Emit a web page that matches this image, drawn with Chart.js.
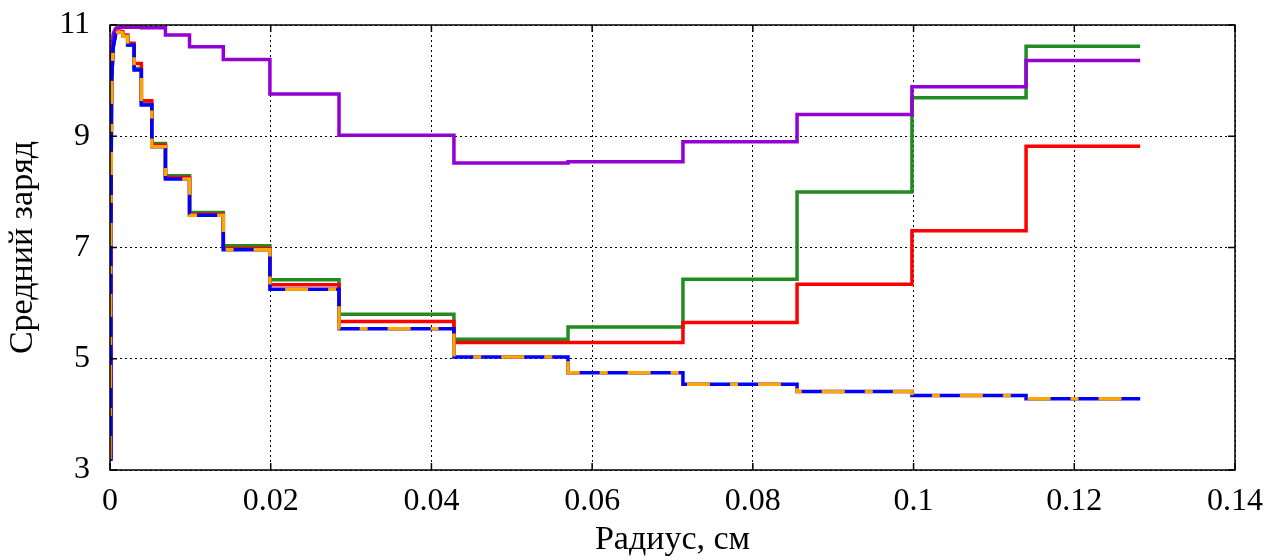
<!DOCTYPE html>
<html>
<head>
<meta charset="utf-8">
<script src="https://cdn.jsdelivr.net/npm/chart.js"></script>
<style>
  body { margin: 0; background: #fff; }
  #chart { display: block; }
</style>
</head>
<body>
<canvas id="chart" width="1277" height="560"></canvas>
<script>
// radius (cm) of the step boundaries
const edges = [0.0016, 0.0022, 0.0030, 0.0039, 0.0052, 0.0069, 0.0099, 0.0141, 0.0199,
  0.0285, 0.0428, 0.0570, 0.0713, 0.0855, 0.0998, 0.1140, 0.1282];
// the steep rise next to r = 0
const riseX = [0, 0.0001, 0.0002, 0.0004, 0.0007, 0.0011, 0.0016];

const greenRise = [3.2, 7.0, 10.0, 10.6, 10.84, 10.88, 10.86];
const redRise = [3.2, 7.0, 10.0, 10.6, 10.85, 10.9, 10.88];
const blueRise = [3.2, 7.0, 10.0, 10.6, 10.84, 10.88, 10.86];
const orangeRise = [3.2, 7.0, 10.0, 10.6, 10.84, 10.88, 10.86];
const purpleRise = [3.25, 9.0, 10.5, 10.85, 10.94, 10.96, 10.96];

const greenSteps = [10.80, 10.64, 10.22, 9.58, 8.87, 8.29, 7.63, 7.03, 6.42, 5.80, 5.35, 5.57, 6.43, 8.00, 9.69, 10.62];
const redSteps = [10.82, 10.67, 10.31, 9.64, 8.84, 8.26, 7.60, 6.98, 6.33, 5.67, 5.29, 5.29, 5.65, 6.34, 7.30, 8.82];
const blueSteps = [10.80, 10.64, 10.19, 9.56, 8.81, 8.23, 7.58, 6.96, 6.25, 5.54, 5.03, 4.75, 4.54, 4.41, 4.34, 4.28];
const orangeSteps = [10.80, 10.64, 10.19, 9.56, 8.81, 8.23, 7.58, 6.96, 6.25, 5.54, 5.03, 4.75, 4.54, 4.41, 4.34, 4.28];
const purpleSteps = [10.96, 10.96, 10.96, 10.95, 10.95, 10.82, 10.61, 10.38, 9.76, 9.02, 8.52, 8.54, 8.90, 9.39, 9.89, 10.36];

const xTicks = [0, 0.02, 0.04, 0.06, 0.08, 0.1, 0.12, 0.14];
const yTicks = [3, 5, 7, 9, 11];

function stepPoints(rise, vals) {
  const pts = riseX.map((x, i) => ({ x: x, y: rise[i] }));
  vals.forEach((v, i) => {
    pts.push({ x: edges[i], y: v });
    pts.push({ x: edges[i + 1], y: v });
  });
  return pts;
}

function series(rise, vals, color, order, dash) {
  return {
    data: stepPoints(rise, vals),
    borderColor: color,
    borderWidth: 3.5,
    borderDash: dash || [],
    showLine: true,
    pointRadius: 0,
    tension: 0,
    fill: false,
    order: order
  };
}

const serif = '"Liberation Serif", "DejaVu Serif", serif';

const frame = {
  id: 'frame',
  afterDatasetsDraw(chart) {
    const { ctx, chartArea: a, scales } = chart;
    ctx.save();
    ctx.strokeStyle = '#000';
    ctx.lineWidth = 1.5;
    ctx.strokeRect(a.left, a.top, a.right - a.left, a.bottom - a.top);
    ctx.beginPath();
    xTicks.forEach(v => {
      const px = scales.x.getPixelForValue(v);
      ctx.moveTo(px, a.bottom); ctx.lineTo(px, a.bottom - 7);
      ctx.moveTo(px, a.top); ctx.lineTo(px, a.top + 7);
    });
    yTicks.forEach(v => {
      const py = scales.y.getPixelForValue(v);
      ctx.moveTo(a.left, py); ctx.lineTo(a.left + 7, py);
      ctx.moveTo(a.right, py); ctx.lineTo(a.right - 7, py);
    });
    ctx.stroke();
    ctx.restore();
  }
};

new Chart(document.getElementById('chart'), {
  type: 'scatter',
  data: {
    datasets: [
      series(greenRise, greenSteps, '#228b22', 5),
      series(redRise, redSteps, '#ff0000', 4),
      series(purpleRise, purpleSteps, '#9400d3', 3),
      series(blueRise, blueSteps, '#0000ff', 2),
      series(orangeRise, orangeSteps, '#ffa500', 1, [23, 20, 8, 20])
    ]
  },
  options: {
    responsive: false,
    animation: false,
    layout: { padding: { top: 25, right: 42, left: 0, bottom: 0 } },
    plugins: { legend: { display: false }, tooltip: { enabled: false } },
    scales: {
      x: {
        type: 'linear',
        min: 0,
        max: 0.14,
        afterBuildTicks: s => { s.ticks = xTicks.map(v => ({ value: v })); },
        afterFit: s => { s.height = 90; s.paddingLeft = 0; s.paddingRight = 0; },
        grid: { color: '#000', lineWidth: 1, drawTicks: false },
        border: { display: false, dash: [2, 3] },
        ticks: {
          color: '#000',
          padding: 12,
          maxRotation: 0,
          font: { family: serif, size: 32 },
          callback: v => String(Number(v.toFixed(2)))
        },
        title: {
          display: true,
          text: 'Радиус, см',
          color: '#000',
          font: { family: serif, size: 34 },
          padding: { top: 0, bottom: 0 }
        }
      },
      y: {
        type: 'linear',
        min: 3,
        max: 11,
        afterBuildTicks: s => { s.ticks = yTicks.map(v => ({ value: v })); },
        afterFit: s => { s.width = 110; s.paddingTop = 0; s.paddingBottom = 0; },
        grid: { color: '#000', lineWidth: 1, drawTicks: false },
        border: { display: false, dash: [2, 3] },
        ticks: {
          color: '#000',
          padding: 20,
          font: { family: serif, size: 32 }
        },
        title: {
          display: true,
          text: 'Средний заряд',
          color: '#000',
          font: { family: serif, size: 34 },
          padding: { top: 3, bottom: 0 }
        }
      }
    }
  },
  plugins: [frame]
});
</script>
</body>
</html>
